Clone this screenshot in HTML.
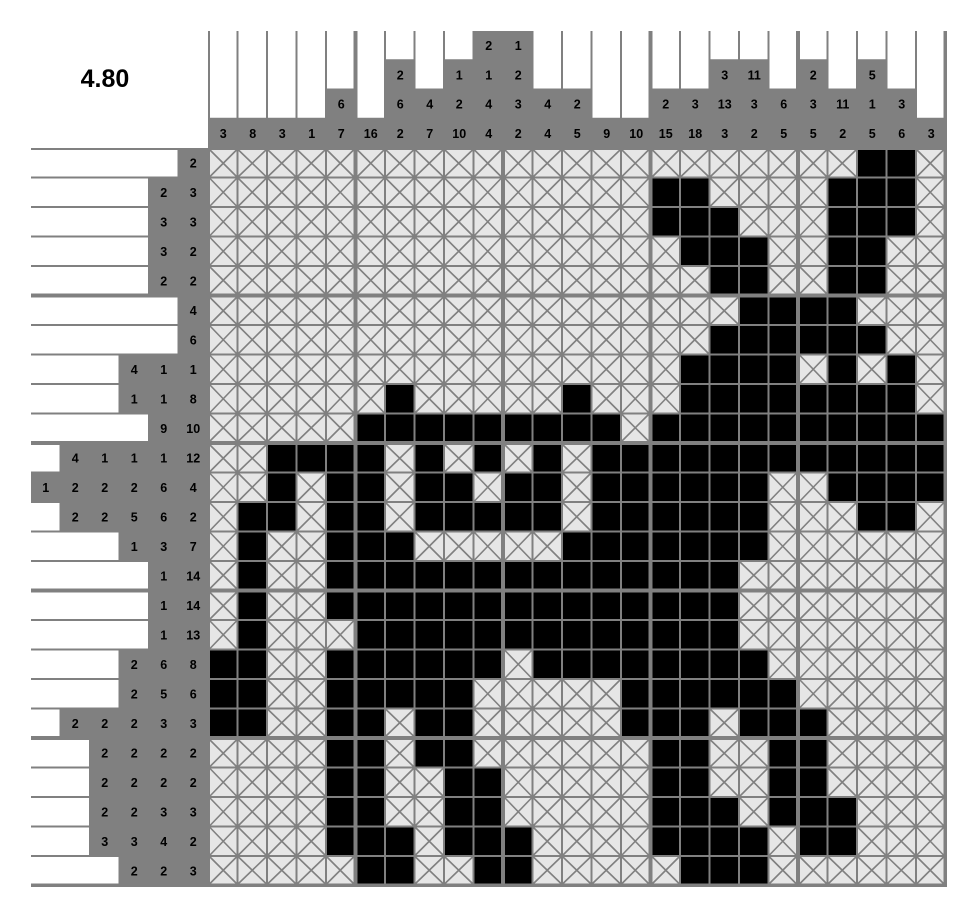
<!DOCTYPE html>
<html><head><meta charset="utf-8">
<style>
html,body{margin:0;padding:0;background:#fff;}
svg{display:block;}
text{font-family:"Liberation Sans",Arial,sans-serif;font-weight:bold;}
</style></head>
<body>
<svg id="puz" width="974" height="915" viewBox="0 0 974 915" xmlns="http://www.w3.org/2000/svg">
<text x="105" y="87" font-size="25" text-anchor="middle" fill="#000">4.80</text>
</svg>
<script>
const colClues = [[3],[8],[3],[1],[6,7],[16],[2,6,2],[4,7],[1,2,10],[2,1,4,4],[1,2,3,2],[4,4],[2,5],[9],[10],[2,15],[3,18],[3,13,3],[11,3,2],[6,5],[2,3,5],[11,2],[5,1,5],[3,6],[3]];
const rowClues = [[2],[2,3],[3,3],[3,2],[2,2],[4],[6],[4,1,1],[1,1,8],[9,10],[4,1,1,1,12],[1,2,2,2,6,4],[2,2,5,6,2],[1,3,7],[1,14],[1,14],[1,13],[2,6,8],[2,5,6],[2,2,2,3,3],[2,2,2,2],[2,2,2,2],[2,2,3,3],[3,3,4,2],[2,2,3]];
const filledRuns = [
 [[23,24]],
 [[16,17],[22,24]],
 [[16,18],[22,24]],
 [[17,19],[22,23]],
 [[18,19],[22,23]],
 [[19,22]],
 [[18,23]],
 [[17,20],[22,22],[24,24]],
 [[7,7],[13,13],[17,24]],
 [[6,14],[16,25]],
 [[3,6],[8,8],[10,10],[12,12],[14,25]],
 [[3,3],[5,6],[8,9],[11,12],[14,19],[22,25]],
 [[2,3],[5,6],[8,12],[14,19],[23,24]],
 [[2,2],[5,7],[13,19]],
 [[2,2],[5,18]],
 [[2,2],[5,18]],
 [[2,2],[6,18]],
 [[1,2],[5,10],[12,19]],
 [[1,2],[5,9],[15,20]],
 [[1,2],[5,6],[8,9],[15,17],[19,21]],
 [[5,6],[8,9],[16,17],[20,21]],
 [[5,6],[9,10],[16,17],[20,21]],
 [[5,6],[9,10],[16,18],[20,22]],
 [[5,7],[9,11],[16,19],[21,22]],
 [[6,7],[10,11],[17,19]]
];
const svg=document.getElementById('puz');
const NS='http://www.w3.org/2000/svg';
const GX=208,GY=148,P=29.5,N=25,GREY='#808080';
const TOP=31,CH=29.25,LEFT=31,CW=29.5;
function mk(tag,attrs){const e=document.createElementNS(NS,tag);for(const k in attrs)e.setAttribute(k,attrs[k]);svg.appendChild(e);return e;}
const bx=i=>GX+i*P, by=i=>GY+i*P;
function lo(i){return i%5===0?2:1;} function hi(i){return (i+1)%5===0?2:1;}
// grid background
let g=mk('rect',{x:GX,y:GY,width:N*P+1.5,height:N*P+1.5,fill:GREY});


// top clue region
let tb=mk('rect',{x:GX,y:TOP,width:N*P+1.5,height:GY-TOP,fill:GREY});


for(let c=0;c<N;c++){
  const n=colClues[c].length;
  const x0=bx(c)+lo(c), x1=bx(c+1)-hi(c);
  if(n<4){const w=mk('rect',{x:x0,y:TOP,width:x1-x0,height:(4-n)*CH-1,fill:'#fff'});
    
    }
  colClues[c].forEach((v,k)=>{
    const row=4-n+k;
    const t=mk('text',{x:(bx(c)+bx(c+1))/2+0.5,y:TOP+row*CH+CH/2+4.5,'font-size':12.5,'text-anchor':'middle',fill:'#000'});
    t.textContent=v;
    
    
  });
}
// left clue region
let lb=mk('rect',{x:LEFT,y:GY,width:GX-LEFT,height:N*P+1.5,fill:GREY});


for(let r=0;r<N;r++){
  const n=rowClues[r].length;
  const y0=by(r)+lo(r), y1=by(r+1)-hi(r);
  if(n<6){const w=mk('rect',{x:LEFT,y:y0,width:(6-n)*CW-1,height:y1-y0,fill:'#fff'});
    
    }
  rowClues[r].forEach((v,k)=>{
    const col=6-n+k;
    const t=mk('text',{x:LEFT+col*CW+CW/2,y:(by(r)+by(r+1))/2+4.5,'font-size':12.5,'text-anchor':'middle',fill:'#000'});
    t.textContent=v;
    
    
  });
}
// cells
for(let r=0;r<N;r++){
  for(let c=0;c<N;c++){
    const on=filledRuns[r].some(([a,b])=>c+1>=a&&c+1<=b);
    const x0=bx(c)+lo(c), x1=bx(c+1)-hi(c)+ (c===N-1?0:0);
    const y0=by(r)+lo(r), y1=by(r+1)-hi(r);
    const cell=mk('rect',{x:x0,y:y0,width:x1-x0,height:y1-y0,fill:on?'#000':'#e6e6e6'});
    
    
    if(!on){
      const p=mk('path',{d:`M${x0} ${y0}L${x1} ${y1}M${x1} ${y0}L${x0} ${y1}`,stroke:GREY,'stroke-width':1.6,fill:'none'});
      
      
    }
  }
}
</script>
</body></html>
